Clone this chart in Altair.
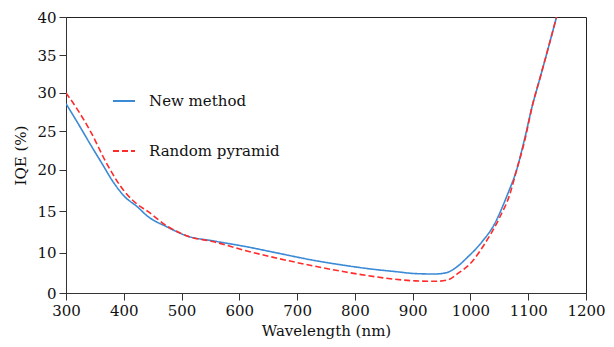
import altair as alt
import pandas as pd

series = ["New method", "Random pyramid"]

wl_new = [300, 321, 343, 364, 381, 401, 424, 441, 475, 510, 556, 613, 669, 728, 784,
          836, 870, 905, 939, 960, 973, 996, 1020, 1042, 1064, 1080, 1094, 1107, 1119, 1133, 1149]
iqe_new = [28.6, 26.0, 23.2, 20.6, 18.6, 16.8, 15.5, 14.4, 13.1, 12.0, 11.4, 10.7, 9.8, 8.1, 6.8,
           5.8, 5.3, 4.8, 4.7, 5.1, 6.1, 9.0, 11.3, 13.5, 17.0, 20.0, 24.1, 28.3, 31.6, 35.5, 40.0]

wl_rand = [300, 321, 343, 372, 401, 424, 441, 475, 510, 556, 613, 669, 728, 784, 836,
           870, 905, 939, 960, 979, 1003, 1025, 1051, 1068, 1080, 1094, 1107, 1119, 1133, 1149]
iqe_rand = [30.0, 27.7, 24.9, 20.6, 17.4, 15.8, 15.0, 13.2, 12.0, 11.3, 10.2, 8.5, 6.7, 5.2, 4.0,
            3.4, 3.0, 2.9, 3.2, 4.9, 7.8, 11.1, 14.3, 17.0, 20.0, 23.8, 28.3, 31.6, 35.5, 40.0]

x_ticks = [300, 400, 500, 600, 700, 800, 900, 1000, 1100, 1200]
y_ticks = [0, 10, 15, 20, 25, 30, 35, 40]

df = pd.concat([
    pd.DataFrame({"wl": wl_new, "iqe": iqe_new, "series": series[0]}),
    pd.DataFrame({"wl": wl_rand, "iqe": iqe_rand, "series": series[1]}),
])

FONT = "DejaVu Serif"
blue = "#3a8ad6"
red = "#ff2a2a"

W = 520
H = 276
y_range = [round(v * H / 280, 1) for v in [280, 239, 197, 155, 116, 77, 39, 0]]

legend = alt.Legend(
    title=None, orient="none", legendX=46, legendY=72,
    symbolType="stroke", symbolSize=484, symbolStrokeWidth=2,
    labelFont=FONT, labelFontSize=15, labelColor="#111",
    labelOffset=13, rowPadding=30, padding=0,
)

chart = alt.Chart(df).mark_line(strokeWidth=1.6, interpolate="monotone", clip=True).encode(
    x=alt.X("wl:Q",
            scale=alt.Scale(domain=[300, 1200], nice=False, zero=False),
            axis=alt.Axis(values=x_ticks, format="d", labelFlush=False,
                          title="Wavelength (nm)", titlePadding=5)),
    y=alt.Y("iqe:Q",
            scale=alt.Scale(domain=y_ticks, range=y_range),
            axis=alt.Axis(values=y_ticks, labelFlush=False, title="IQE (%)", titlePadding=8)),
    color=alt.Color("series:N", scale=alt.Scale(domain=series, range=[blue, red]), legend=legend),
    strokeDash=alt.StrokeDash("series:N", scale=alt.Scale(domain=series, range=[[1, 0], [6, 3]]), legend=legend),
).properties(
    width=W, height=H,
    autosize=alt.AutoSizeParams(type="none"),
    padding={"left": 58, "top": 9, "right": 19, "bottom": 48},
    background="white",
).configure_view(
    stroke="#222", strokeWidth=1
).configure_axis(
    grid=False,
    labelFont=FONT, labelFontSize=15, labelColor="#111",
    titleFont=FONT, titleFontSize=15, titleFontWeight="normal", titleColor="#111",
    tickSize=7, tickColor="#333", domainColor="#333", labelPadding=3,
)

chart.save("out.html", embed_options={"renderer": "svg", "actions": False})
